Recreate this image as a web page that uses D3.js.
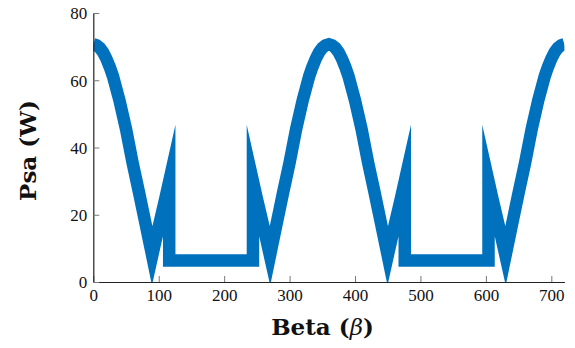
<!DOCTYPE html>
<html>
<head>
<meta charset="utf-8">
<script src="https://cdn.jsdelivr.net/npm/d3@7"></script>
<style>
  body { margin: 0; background: #fff; }
  svg { display: block; }
</style>
</head>
<body>
<div class="chart"></div>
<script>
// beta angle (deg) and power (W)
const beta = [0, 5, 10, 15, 20, 25, 30, 40, 50, 60, 70, 80, 90, 100, 110, 116, 116,
  244, 244, 250, 260, 270, 280, 290, 300, 310, 320, 330, 335, 340, 345, 350, 355, 360,
  365, 370, 375, 380, 385, 390, 400, 410, 420, 430, 440, 450, 460, 470, 476, 476,
  604, 604, 610, 620, 630, 640, 650, 660, 670, 680, 690, 695, 700, 705, 710, 715, 720]
const psa = [70.7, 70.4, 69.6, 68.3, 66.4, 64.0, 61.2, 54.0, 45.5, 35.5, 26.5, 17.2, 7.8, 16.5, 24.8, 30, 6.4,
  6.4, 30, 24.8, 16.5, 7.8, 17.2, 26.5, 35.5, 45.5, 54.0, 61.2, 64.0, 66.4, 68.3, 69.6, 70.4, 70.7,
  70.4, 69.6, 68.3, 66.4, 64.0, 61.2, 54.0, 45.5, 35.5, 26.5, 17.2, 7.8, 16.5, 24.8, 30, 6.4,
  6.4, 30, 24.8, 16.5, 7.8, 17.2, 26.5, 35.5, 45.5, 54.0, 61.2, 64.0, 66.4, 68.3, 69.6, 70.4, 70.7]
const xTicks = [0, 100, 200, 300, 400, 500, 600, 700]
const yTicks = [0, 20, 40, 60, 80]

const data = beta.map((b, i) => ({ beta: b, psa: psa[i] }))

const width = 575
const height = 348
const margin = { top: 13, right: 10.6, bottom: 66, left: 93.3 }
const innerW = width - margin.left - margin.right
const innerH = height - margin.top - margin.bottom

const svg = d3
  .select('.chart')
  .append('svg')
  .attr('width', width)
  .attr('height', height)

const g = svg
  .append('g')
  .attr('transform', `translate(${margin.left}, ${margin.top})`)

const xScale = d3.scaleLinear().domain([0, 720]).range([0, innerW])
const yScale = d3.scaleLinear().domain([0, 80]).range([innerH, 0])

svg.append('defs')
  .append('clipPath')
  .attr('id', 'plotClip')
  .append('rect')
  .attr('x', 0)
  .attr('y', 0)
  .attr('width', innerW)
  .attr('height', innerH)

const line = d3
  .line()
  .x(d => xScale(d.beta))
  .y(d => yScale(d.psa))

g.append('path')
  .datum(data)
  .attr('clip-path', 'url(#plotClip)')
  .attr('fill', 'none')
  .attr('stroke', '#0072bd')
  .attr('stroke-width', 12.5)
  .attr('stroke-linejoin', 'miter')
  .attr('stroke-miterlimit', 10)
  .attr('d', line)

// axes, ticks pointing inward
const xAxis = g.append('g')
  .attr('transform', `translate(0, ${innerH})`)
  .call(d3.axisTop(xScale).tickValues(xTicks).tickSize(6).tickSizeOuter(0))
xAxis.selectAll('text').remove()
xAxis.selectAll('.tick')
  .append('text')
  .attr('y', 19)
  .attr('fill', '#111')
  .attr('text-anchor', 'middle')
  .text(d => d)

const yAxis = g.append('g')
  .call(d3.axisRight(yScale).tickValues(yTicks).tickSize(6).tickSizeOuter(0))
yAxis.selectAll('text').remove()
yAxis.selectAll('.tick')
  .append('text')
  .attr('x', -6)
  .attr('dy', '0.35em')
  .attr('fill', '#111')
  .attr('text-anchor', 'end')
  .text(d => d)

g.selectAll('.domain').attr('stroke', '#222').attr('stroke-width', 1.2)
g.selectAll('.tick line').attr('stroke', '#777').attr('stroke-width', 1)
g.selectAll('.tick text')
  .style('font-family', '"Liberation Serif", serif')
  .style('font-size', '17px')

// axis titles
const xTitle = svg.append('text')
  .attr('x', 322.5)
  .attr('y', 335)
  .attr('text-anchor', 'middle')
  .style('font-family', '"DejaVu Serif", serif')
  .style('font-size', '23px')
  .style('font-weight', 'bold')
  .attr('fill', '#111')
xTitle.append('tspan').text('Beta (')
xTitle.append('tspan').style('font-weight', 'normal').style('font-style', 'italic').text('β')
xTitle.append('tspan').text(')')

svg.append('text')
  .attr('transform', `translate(36, ${margin.top + innerH / 2 + 3}) rotate(-90)`)
  .attr('text-anchor', 'middle')
  .style('font-family', '"DejaVu Serif", serif')
  .style('font-size', '23px')
  .style('font-weight', 'bold')
  .attr('fill', '#111')
  .text('Psa (W)')
</script>
</body>
</html>
